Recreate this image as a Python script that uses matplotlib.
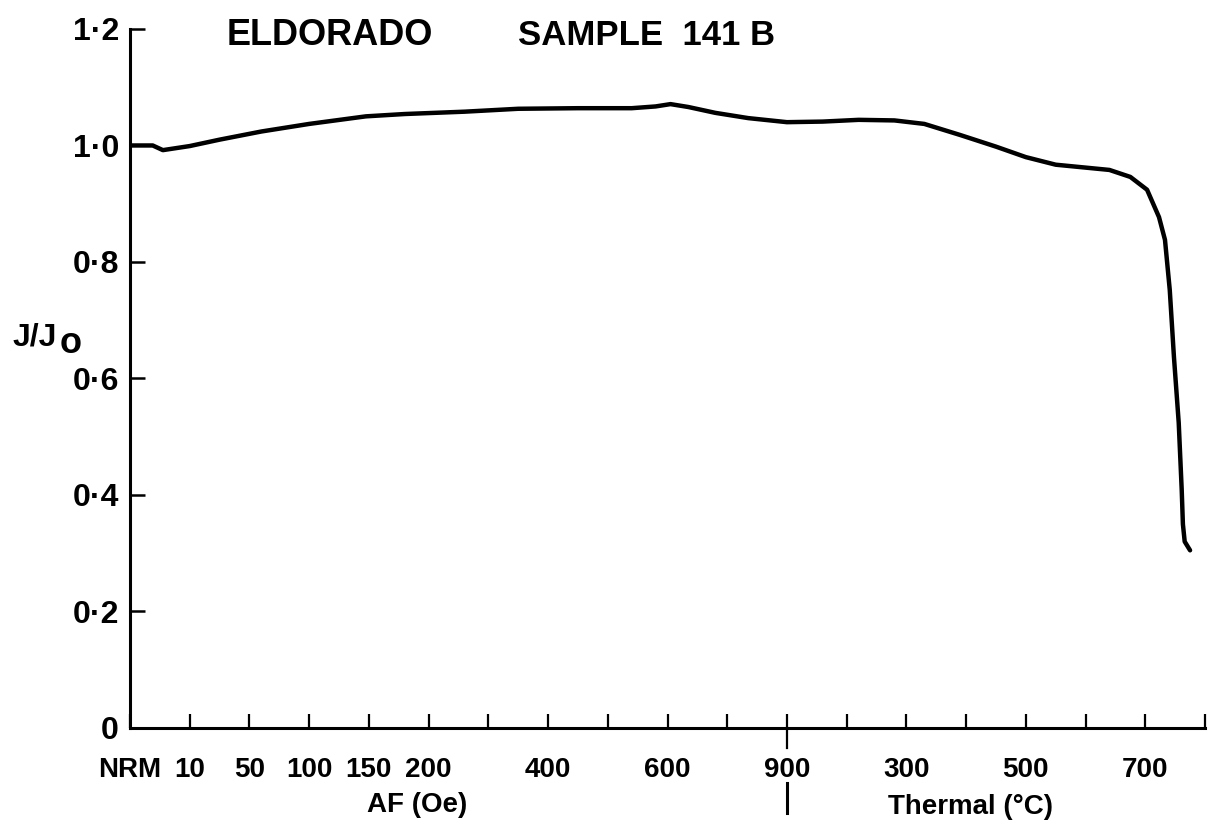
import numpy as np
import matplotlib
matplotlib.use("Agg")
import matplotlib.pyplot as plt
from matplotlib.lines import Line2D
from matplotlib.transforms import blended_transform_factory

plt.rcParams["font.family"] = ["Liberation Sans", "DejaVu Sans"]
plt.rcParams["font.weight"] = "bold"

# ── Data (x = demagnetisation step index along the axis) ──────────────────────
step_x = [0, 0.38, 0.55, 1.0, 1.5, 2.2, 3.0, 3.95, 4.6, 5.6, 6.5, 7.5, 8.4,
          8.8, 9.05, 9.35, 9.8, 10.35, 11.0, 11.6, 12.2, 12.8, 13.3, 13.9,
          14.5, 15.0, 15.5, 16.0, 16.4, 16.75, 17.03, 17.23, 17.33, 17.41,
          17.48, 17.56, 17.61, 17.63, 17.66, 17.75]
j_ratio = [1.0, 1.0, 0.992, 0.999, 1.01, 1.024, 1.037, 1.05, 1.054, 1.058,
           1.063, 1.064, 1.064, 1.067, 1.071, 1.066, 1.056, 1.047, 1.040,
           1.041, 1.044, 1.043, 1.037, 1.018, 0.998, 0.98, 0.967, 0.962,
           0.958, 0.946, 0.924, 0.877, 0.838, 0.752, 0.637, 0.524, 0.409,
           0.35, 0.32, 0.305]

tick_pos = list(range(0, 19))
tick_lab = ["NRM", "10", "50", "100", "150", "200", "", "400", "", "600", "",
            "900", "", "300", "", "500", "", "700", ""]
ytick_pos = [0, 0.2, 0.4, 0.6, 0.8, 1.0, 1.2]
ytick_lab = ["0", "0·2", "0·4", "0·6", "0·8", "1·0", "1·2"]

# ── Figure ────────────────────────────────────────────────────────────────────
fig = plt.figure(figsize=(12.13, 8.3), dpi=100)
ax = fig.add_axes([0.1072, 0.1229, 0.8862, 0.8422])

ax.plot(step_x, j_ratio, color="black", lw=3.2, solid_joinstyle="round",
        solid_capstyle="round")

ax.set_xlim(0, 18)
ax.set_ylim(0, 1.2)
ax.set_xticks(tick_pos)
ax.set_xticklabels(tick_lab, fontsize=20, fontweight="bold")
ax.set_yticks(ytick_pos)
ax.set_yticklabels(ytick_lab, fontsize=23, fontweight="bold")

for s in ["top", "right"]:
    ax.spines[s].set_visible(False)
for s in ["left", "bottom"]:
    ax.spines[s].set_linewidth(2.2)

ax.tick_params(axis="x", direction="in", length=10, width=1.6, pad=21)
ax.tick_params(axis="y", direction="in", length=11, width=1.8, pad=8)

# AF / thermal separator below the 900 Oe step
sep = blended_transform_factory(ax.transData, fig.transFigure)
fig.add_artist(Line2D([11, 11], [0.0566, 0.0205], transform=sep,
                      color="black", lw=2.2))
ax.add_artist(Line2D([11, 11], [0, -0.028],
                     transform=blended_transform_factory(ax.transData, ax.transAxes),
                     color="black", lw=1.6, clip_on=False))

ax.text(4.8, 0.0217, "AF (Oe)", transform=sep, fontsize=20,
        ha="center", va="baseline", fontweight="bold")
ax.text(14.07, 0.0193, "Thermal (°C)", transform=sep, fontsize=20,
        ha="center", va="baseline", fontweight="bold")

# Title & y label
fig.text(0.1871, 0.9458, "ELDORADO", fontsize=26, ha="left", va="baseline",
         fontweight="bold")
fig.text(0.427, 0.9458, "SAMPLE  141 B", fontsize=25, ha="left", va="baseline",
         fontweight="bold")
fig.text(0.010, 1 - 345 / 830, "J/J", fontsize=23, ha="left", va="baseline",
         fontweight="bold")
fig.text(0.0495, 1 - 353 / 830, "o", fontsize=26, ha="left", va="baseline",
         fontweight="bold")

fig.savefig("out.png", dpi=100, facecolor="white")
